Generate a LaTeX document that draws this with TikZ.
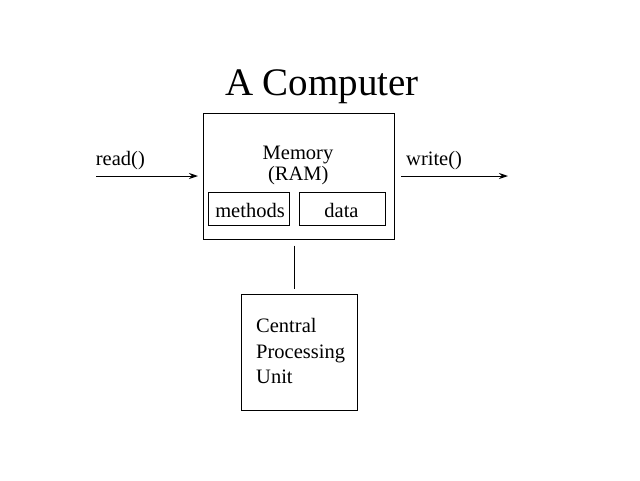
\documentclass[tikz,border=0pt]{standalone}
\usepackage{fontspec}
\setmainfont{Liberation Serif}
\usetikzlibrary{arrows.meta}
\tikzset{
  box/.style={draw, line width=1pt, inner sep=0pt},
  lbl/.style={inner sep=0pt, anchor=base, font=\fontsize{20.5}{24}\selectfont},
  lblw/.style={inner sep=0pt, anchor=base west, font=\fontsize{20.5}{24}\selectfont},
  conn/.style={line width=1pt},
  arr/.style={line width=1pt, -{Stealth[length=9pt,width=6pt]}}
}
\begin{document}
\begin{tikzpicture}[x=1pt,y=-1pt]
\useasboundingbox (0,0) rectangle (640,480);
% boxes
\node[box, minimum width=191pt, minimum height=126pt] (mem) at (298.5,176) {};
\node[box, minimum width=81pt, minimum height=33.4pt] (meth) at (248.8,209) {};
\node[box, minimum width=86pt, minimum height=33.4pt] (data) at (342,209) {};
\node[box, minimum width=115.5pt, minimum height=116pt] (cpu) at (299.25,352) {};
% texts
\node[inner sep=0pt, anchor=base, font=\fontsize{39}{44}\selectfont] (title) at (322,95.7) {A Computer};
\node[lbl] (memt) at (298,159.3) {Memory};
\node[lbl] (ramt) at (298.3,180) {(RAM)};
\node[lbl] (metht) at (250,217.3) {methods};
\node[lbl] (datat) at (341.5,217.3) {data};
\node[lblw] (readt) at (95.7,165) {read()};
\node[lblw] (writet) at (406,165) {write()};
\node[lblw] (c1t) at (256,332.7) {Central};
\node[lblw] (c2t) at (256,358) {Processing};
\node[lblw] (c3t) at (256,383.3) {Unit};
% connector ends
\coordinate (r1) at (96,176);
\coordinate (r2) at (198,176);
\coordinate (w1) at (401,176);
\coordinate (w2) at (508,176);
\coordinate (v1) at (294,245.7);
\coordinate (v2) at (294,289);
\draw[arr] (r1) -- (r2);
\draw[arr] (w1) -- (w2);
\draw[conn] (v1) -- (v2);
\end{tikzpicture}
\end{document}
